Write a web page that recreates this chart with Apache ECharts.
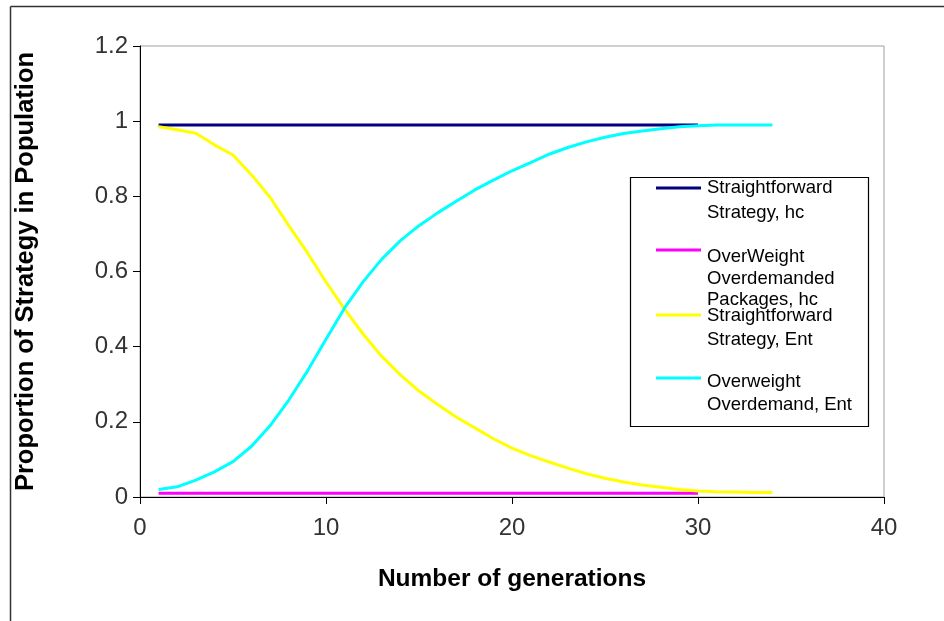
<!DOCTYPE html>
<html><head><meta charset="utf-8">
<script src="https://cdn.jsdelivr.net/npm/echarts/dist/echarts.min.js"></script>
<style>html,body{margin:0;padding:0;background:#fff}#c{width:944px;height:621px}</style>
</head><body><div id="c"></div>
<script>
// ---- data ----
const genHc = [1,2,3,4,5,6,7,8,9,10,11,12,13,14,15,16,17,18,19,20,21,22,23,24,25,26,27,28,29,30];
const genEnt = [1,2,3,4,5,6,7,8,9,10,11,12,13,14,15,16,17,18,19,20,21,22,23,24,25,26,27,28,29,30,31,32,33,34];
const straightHc = [0.99,0.99,0.99,0.99,0.99,0.99,0.99,0.99,0.99,0.99,0.99,0.99,0.99,0.99,0.99,0.99,0.99,0.99,0.99,0.99,0.99,0.99,0.99,0.99,0.99,0.99,0.99,0.99,0.99,0.99];
const overweightHc = [0.01,0.01,0.01,0.01,0.01,0.01,0.01,0.01,0.01,0.01,0.01,0.01,0.01,0.01,0.01,0.01,0.01,0.01,0.01,0.01,0.01,0.01,0.01,0.01,0.01,0.01,0.01,0.01,0.01,0.01];
const straightEnt = [0.985,0.977,0.968,0.937,0.91,0.857,0.797,0.722,0.65,0.572,0.5,0.433,0.374,0.325,0.282,0.246,0.213,0.184,0.155,0.13,0.11,0.093,0.077,0.062,0.05,0.04,0.032,0.026,0.02,0.016,0.014,0.013,0.012,0.012];
const overweightEnt = [0.02,0.027,0.045,0.067,0.094,0.135,0.19,0.258,0.335,0.42,0.503,0.573,0.633,0.682,0.722,0.756,0.787,0.817,0.843,0.868,0.89,0.912,0.93,0.945,0.957,0.967,0.974,0.98,0.985,0.988,0.99,0.99,0.99,0.99];
const seriesNames = ['Straightforward Strategy, hc','OverWeight Overdemanded Packages, hc','Straightforward Strategy, Ent','Overweight Overdemand, Ent'];
const legendLines = [['Straightforward','Strategy, hc'],['OverWeight','Overdemanded','Packages, hc'],['Straightforward','Strategy, Ent'],['Overweight','Overdemand, Ent']];
const seriesColors = ['#000080','#FF00FF','#FFFF00','#00FFFF'];
const xTitle = 'Number of generations';
const yTitle = 'Proportion of Strategy in Population';

// ---- chart ----
const chart = echarts.init(document.getElementById('c'), null, {renderer:'canvas'});
const xs = [genHc, genHc, genEnt, genEnt];
const ys = [straightHc, overweightHc, straightEnt, overweightEnt];
const series = ys.map((v,i)=>({
  name: seriesNames[i], type:'line', showSymbol:false, symbol:'none',
  data: v.map((y,j)=>[xs[i][j], y]),
  lineStyle:{color:seriesColors[i], width:3}, itemStyle:{color:seriesColors[i]},
  z: 2+i
}));

// legend as graphic
const legendX = 630, legendY = 177, legendW = 238, legendH = 249;
const itemLineY = [188, 250, 315, 378];
const textYs = [[188,213],[257,279,300],[316,340],[382,405]];
const g = [{type:'rect', shape:{x:legendX+0.5,y:legendY+0.5,width:legendW,height:legendH}, style:{fill:'#fff', stroke:'#000', lineWidth:1.2}, z:10}];
legendLines.forEach((lines,i)=>{
  g.push({type:'line', shape:{x1:656,y1:itemLineY[i],x2:701,y2:itemLineY[i]}, style:{stroke:seriesColors[i], lineWidth:3}, z:11});
  lines.forEach((t,k)=>{
    g.push({type:'text', x:707, y:textYs[i][k], style:{text:t, fill:'#000', font:'18.5px "Liberation Sans", Arial, sans-serif', verticalAlign:'middle', align:'left'}, z:11});
  });
});
// outer frame (left and top)
g.push({type:'line', shape:{x1:10.5,y1:6.5,x2:944,y2:6.5}, style:{stroke:'#333', lineWidth:1.5}, z:1});
g.push({type:'line', shape:{x1:10.5,y1:6.5,x2:10.5,y2:621}, style:{stroke:'#333', lineWidth:1.5}, z:1});

const FONT = '"Liberation Sans", Arial, sans-serif';
chart.setOption({
  animation:false,
  backgroundColor:'#fff',
  grid:{left:140, right:60, top:46, bottom:124, show:true, borderColor:'#a0a0a0', borderWidth:1, backgroundColor:'transparent'},
  xAxis:{type:'value', min:0, max:40, interval:10,
    axisLine:{show:true, lineStyle:{color:'#000', width:1}},
    axisTick:{show:true, length:7, lineStyle:{color:'#000'}},
    splitLine:{show:false},
    axisLabel:{fontSize:24, color:'#333', margin:19, fontFamily:FONT},
    name:xTitle, nameLocation:'middle', nameGap:70,
    nameTextStyle:{fontSize:24.5, fontWeight:'bold', color:'#000', fontFamily:FONT}
  },
  yAxis:{type:'value', min:0, max:1.2, interval:0.2,
    axisLine:{show:true, lineStyle:{color:'#000', width:1}},
    axisTick:{show:true, length:7, lineStyle:{color:'#000'}},
    splitLine:{show:false},
    axisLabel:{fontSize:24, color:'#333', margin:12, fontFamily:FONT},
    name:yTitle, nameLocation:'middle', nameGap:101,
    nameTextStyle:{fontSize:25.5, fontWeight:'bold', color:'#000', fontFamily:FONT}
  },
  series: series,
  graphic: g
});
</script></body></html>
